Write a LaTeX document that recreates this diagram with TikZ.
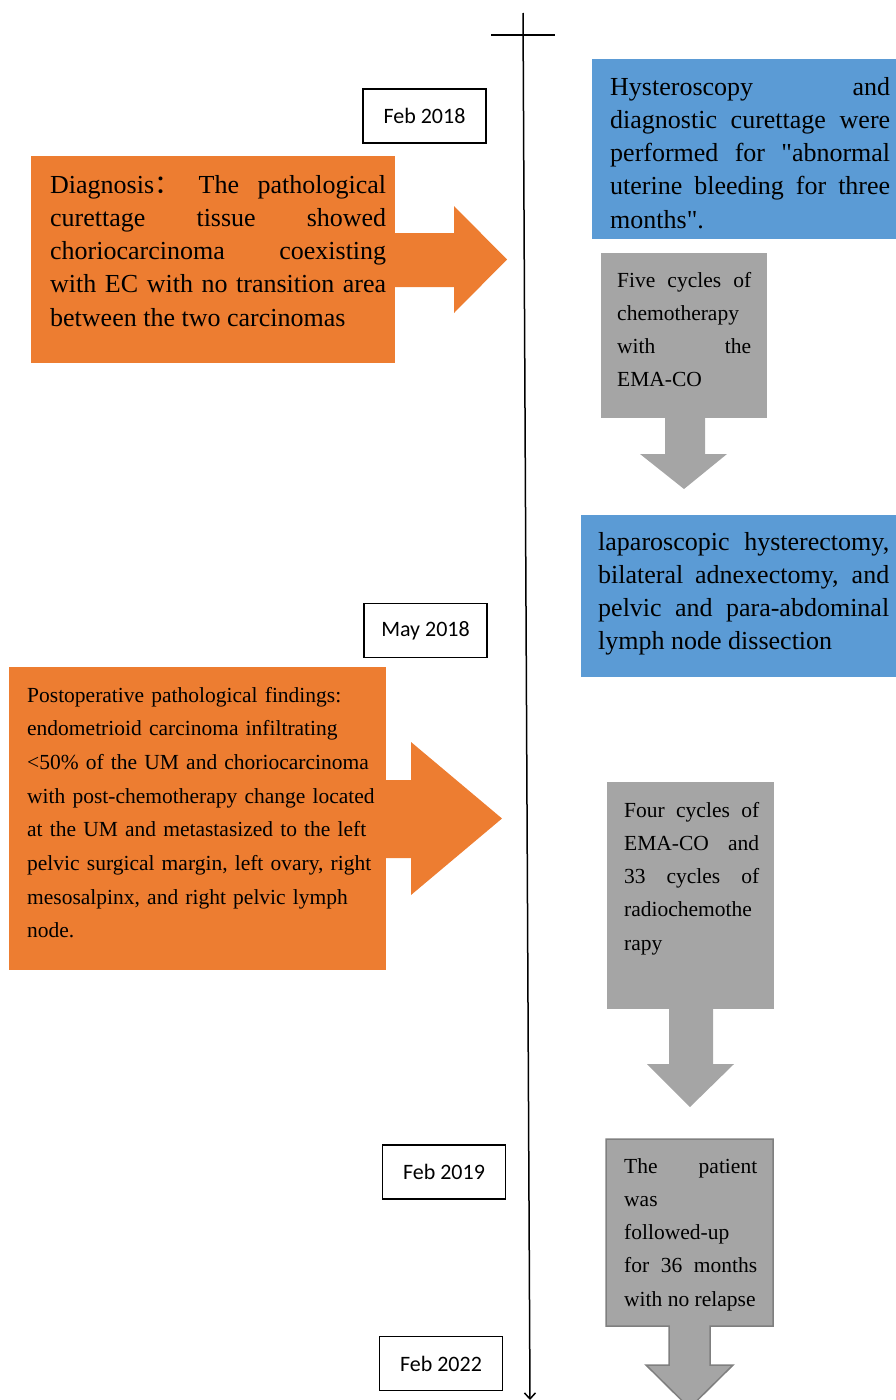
\documentclass[tikz,border=0pt]{standalone}
\usepackage{fontspec}
\setmainfont{Liberation Serif}[Ligatures=TeXOff]
\newfontfamily\datefont{Carlito}
\newfontfamily\cjk{Noto Sans CJK SC}
\usetikzlibrary{arrows.meta}
\definecolor{boxblue}{HTML}{5B9BD5}
\definecolor{boxorange}{HTML}{ED7D31}
\definecolor{boxgray}{HTML}{A5A5A5}
\definecolor{edgegray}{HTML}{7F7F7F}
\tolerance=10000
\hyphenpenalty=10000

\begin{document}
\begin{tikzpicture}[x=1pt,y=-1pt,
    datebox/.style={draw,line width=1.5pt,minimum width=123pt,minimum height=54pt,inner sep=0pt,font=\datefont\fontsize{22}{24}\selectfont},
    bigtext/.style={anchor=base west,inner sep=0pt,align=justify,font=\rmfamily\fontsize{26}{33.3}\selectfont},
    smalltext/.style={anchor=base west,inner sep=0pt,align=justify,font=\rmfamily\fontsize{21.5}{33.3}\selectfont}]
                \useasboundingbox (0,0) rectangle (896,1400);

                % Time axis
                \coordinate (start) at (523,13);
                \coordinate (end) at (530,1400);
                \draw[line width=1.5pt,-{Straight Barb[length=6pt,width=11pt]}] (start) -- (end);
                \draw[line width=2.5pt] (491,35) -- (555,35);

                % Dates
                \node[datebox] (feb18) at (424.5,116) {Feb 2018};
                \node[datebox] (may18) at (425.5,630.5) {May 2018};
                \node[datebox] (feb19) at (444,1172) {Feb 2019};
                \node[datebox] (feb22) at (441,1363.5) {Feb 2022};

                % Procedures
                \fill[boxblue] (592,59) rectangle (896,239);
                \node[bigtext,text width=280pt] (hyst) at (610,95) {Hysteroscopy and\linebreak diagnostic curettage were\linebreak performed for "abnormal\linebreak uterine bleeding for three\linebreak months".};
                \fill[boxblue] (581,515) rectangle (896,677);
                \node[bigtext,text width=291pt] (lapa) at (598,550) {laparoscopic hysterectomy,\linebreak bilateral adnexectomy, and\linebreak pelvic and para-abdominal\linebreak lymph node dissection};

                % Pathology
                \fill[boxorange] (31,156) rectangle (395,363);
                \fill[boxorange] (395,233) -- (454,233) -- (454,206) -- (507,259.5) -- (454,313) -- (454,287) -- (395,287) -- cycle;
                \node[bigtext,text width=336pt] (diag) at (50,193) {Diagnosis{\cjk ：} The pathological\linebreak curettage tissue showed\linebreak choriocarcinoma coexisting\linebreak with EC with no transition area\linebreak between the two carcinomas};
                \fill[boxorange] (9,667) rectangle (386,970);
                \fill[boxorange] (386,780) -- (411,780) -- (411,742) -- (502,818.5) -- (411,895) -- (411,858) -- (386,858) -- cycle;
                \node[smalltext,align=left,text width=360pt,font=\rmfamily\fontsize{21.5}{33.7}\selectfont] (post) at (27,702) {Postoperative pathological findings:\\ endometrioid carcinoma infiltrating\\ <50\% of the UM and choriocarcinoma\\ with post-chemotherapy change located\\ at the UM and metastasized to the left\\ pelvic surgical margin, left ovary, right\\ mesosalpinx, and right pelvic lymph\\ node.};

                % Treatment and follow-up
                \fill[boxgray] (601,253) rectangle (767,418);
                \fill[boxgray] (665,418) -- (705,418) -- (705,454) -- (727,454) -- (684,489) -- (640,454) -- (665,454) -- cycle;
                \node[smalltext,text width=134pt] (chemo) at (617,287) {Five cycles of\linebreak chemotherapy\linebreak with the\linebreak EMA-CO};
                \fill[boxgray] (607,782) rectangle (774,1009);
                \fill[boxgray] (669,1009) -- (713,1009) -- (713,1064) -- (734,1064) -- (690,1107) -- (647,1064) -- (669,1064) -- cycle;
                \node[smalltext,text width=135pt] (radio) at (624,817) {Four cycles of\linebreak EMA-CO and\linebreak 33 cycles of\linebreak radiochemothe\linebreak rapy};
                \filldraw[fill=boxgray,draw=edgegray,line width=1.5pt] (606,1139) -- (773,1139) -- (773,1326) -- (710,1326) -- (710,1365) -- (733,1365) -- (689.5,1408) -- (646,1365) -- (669,1365) -- (669,1326) -- (606,1326) -- cycle;
                \node[smalltext,text width=133pt] (follow) at (624,1173) {The patient\linebreak was\linebreak followed-up\linebreak for 36 months\linebreak with no relapse};

            \end{tikzpicture}
\end{document}
